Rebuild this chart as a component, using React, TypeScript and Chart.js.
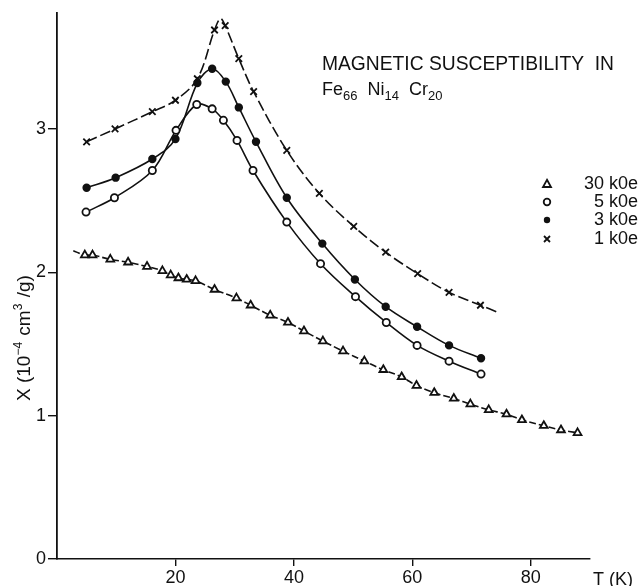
import React, { useEffect, useRef } from 'react';
import { Chart, registerables } from 'chart.js';

Chart.register(...registerables);

const FONT = '"Liberation Sans", Arial, sans-serif';
const INK = '#111111';

// 30 kOe (open triangles)
const t30 = [4.7, 6.0, 9.0, 12.0, 15.2, 17.8, 19.2, 20.5, 21.9, 23.4, 26.6, 30.3, 32.7, 36.0, 39.0, 41.7, 44.9, 48.3, 51.9, 55.1, 58.2, 60.7, 63.7, 67.0, 69.8, 72.9, 75.9, 78.5, 82.2, 85.1, 87.9];
const chi30 = [2.12, 2.12, 2.09, 2.07, 2.04, 2.01, 1.98, 1.96, 1.95, 1.94, 1.88, 1.82, 1.77, 1.70, 1.65, 1.59, 1.52, 1.45, 1.38, 1.32, 1.27, 1.21, 1.16, 1.12, 1.08, 1.04, 1.01, 0.97, 0.93, 0.90, 0.88];
// 5 kOe (open circles)
const t5 = [4.9, 9.7, 16.1, 20.1, 23.6, 26.2, 28.1, 30.4, 33.1, 38.8, 44.5, 50.4, 55.6, 60.8, 66.2, 71.6];
const chi5 = [2.42, 2.52, 2.71, 2.99, 3.17, 3.14, 3.06, 2.92, 2.71, 2.35, 2.06, 1.83, 1.65, 1.49, 1.38, 1.29];
// 3 kOe (filled circles)
const t3 = [5.0, 9.9, 16.1, 20.0, 23.7, 26.2, 28.5, 30.7, 33.6, 38.8, 44.8, 50.3, 55.5, 60.8, 66.2, 71.6];
const chi3 = [2.59, 2.66, 2.79, 2.93, 3.32, 3.42, 3.33, 3.15, 2.91, 2.52, 2.20, 1.95, 1.76, 1.62, 1.49, 1.40];
// 1 kOe (crosses)
const t1 = [5.0, 9.8, 16.1, 20.0, 23.7, 26.6, 28.4, 30.7, 33.2, 38.8, 44.3, 50.1, 55.5, 60.9, 66.2, 71.5];
const chi1 = [2.91, 3.00, 3.12, 3.20, 3.35, 3.69, 3.72, 3.49, 3.26, 2.85, 2.55, 2.32, 2.14, 1.99, 1.86, 1.77];

// extra points of the hand-drawn curves
const curveStart30 = [2.75, 2.15];
const curvePeak1 = [27.6, 3.77];
const curveEnd1 = [74.5, 1.72];

const xTicks = [20, 40, 60, 80];
const yTicks = [0, 1, 2, 3];
const legendLabels = ['30 k0e', '5 k0e', '3 k0e', '1 k0e'];
const legendStyles = ['triangle', 'open', 'filled', 'cross'];
const titleText = 'MAGNETIC SUSCEPTIBILITY  IN';
const formula: [string, string][] = [['Fe', '66'], ['Ni', '14'], ['Cr', '20']];
const xTitle = 'T (K)';

const pts = (xs: number[], ys: number[]) => xs.map((x, i) => ({ x, y: ys[i] }));

function drawMarker(ctx: CanvasRenderingContext2D, style: string, x: number, y: number) {
  ctx.save();
  ctx.strokeStyle = INK;
  ctx.fillStyle = INK;
  ctx.lineWidth = 1.8;
  if (style === 'triangle') {
    ctx.beginPath();
    ctx.moveTo(x, y - 4.2);
    ctx.lineTo(x + 4, y + 3);
    ctx.lineTo(x - 4, y + 3);
    ctx.closePath();
    ctx.stroke();
  } else if (style === 'open') {
    ctx.beginPath();
    ctx.arc(x, y, 3.3, 0, Math.PI * 2);
    ctx.stroke();
  } else if (style === 'filled') {
    ctx.beginPath();
    ctx.arc(x, y, 3.2, 0, Math.PI * 2);
    ctx.fill();
  } else {
    ctx.beginPath();
    ctx.moveTo(x - 3, y - 3);
    ctx.lineTo(x + 3, y + 3);
    ctx.moveTo(x + 3, y - 3);
    ctx.lineTo(x - 3, y + 3);
    ctx.stroke();
  }
  ctx.restore();
}

const textPlugin = {
  id: 'textPlugin',
  afterDraw(chart: any) {
    const ctx: CanvasRenderingContext2D = chart.ctx;
    ctx.save();
    ctx.fillStyle = INK;
    ctx.textBaseline = 'alphabetic';
    ctx.textAlign = 'left';
    // title
    ctx.font = `20px ${FONT}`;
    ctx.fillText(titleText, 322, 70, 292);
    // formula with subscripts
    let x = 322;
    formula.forEach(([el, sub]) => {
      ctx.font = `18px ${FONT}`;
      ctx.fillText(el, x, 95);
      x += ctx.measureText(el).width;
      ctx.font = `13px ${FONT}`;
      ctx.fillText(sub, x, 100);
      x += ctx.measureText(sub).width + 10;
    });
    // legend
    const rows = [184, 202, 220, 239];
    ctx.font = `18px ${FONT}`;
    ctx.textAlign = 'right';
    ctx.textBaseline = 'middle';
    legendLabels.forEach((lab, i) => {
      drawMarker(ctx, legendStyles[i], 547, rows[i]);
      ctx.fillText(lab, 638, rows[i]);
    });
    // x-axis title
    ctx.textAlign = 'left';
    ctx.textBaseline = 'alphabetic';
    ctx.font = `18px ${FONT}`;
    ctx.fillText(xTitle, 593, 585);
    // y-axis title (rotated)
    ctx.translate(30, 401);
    ctx.rotate(-Math.PI / 2);
    const parts: [string, boolean][] = [['X (10', false], ['\u22124', true], [' cm', false], ['3', true], [' /g)', false]];
    let px = 0;
    parts.forEach(([s, sup]) => {
      ctx.font = sup ? `12px ${FONT}` : `19px ${FONT}`;
      ctx.fillText(s, px, sup ? -8 : 0);
      px += ctx.measureText(s).width + (sup ? 1 : 0);
    });
    ctx.restore();
  },
};

export default function App() {
  const ref = useRef<HTMLCanvasElement>(null);
  useEffect(() => {
    const lineBase = { showLine: true, pointRadius: 0, borderColor: INK, borderWidth: 1.6, tension: 0.35, fill: false, order: 2 };
    const markBase = { showLine: false, borderColor: INK, borderWidth: 1.8, order: 0 };
    const chart = new Chart(ref.current as HTMLCanvasElement, {
      type: 'scatter',
      data: {
        datasets: [
          { ...markBase, label: '30 kOe', data: pts(t30, chi30), pointStyle: 'triangle', pointRadius: 4.5, pointBackgroundColor: '#fff' },
          { ...markBase, label: '5 kOe', data: pts(t5, chi5), pointStyle: 'circle', pointRadius: 3.6, pointBackgroundColor: '#fff' },
          { ...markBase, label: '3 kOe', data: pts(t3, chi3), pointStyle: 'circle', pointRadius: 3.3, pointBackgroundColor: INK },
          { ...markBase, label: '1 kOe', data: pts(t1, chi1), pointStyle: 'crossRot', pointRadius: 4.6 },
          { ...lineBase, label: 'c30', data: [{ x: curveStart30[0], y: curveStart30[1] }, ...pts(t30, chi30)], borderDash: [7, 3] },
          { ...lineBase, label: 'c5', data: pts(t5, chi5) },
          { ...lineBase, label: 'c3', data: pts(t3, chi3) },
          {
            ...lineBase,
            label: 'c1',
            data: [...pts(t1, chi1), { x: curvePeak1[0], y: curvePeak1[1] }, { x: curveEnd1[0], y: curveEnd1[1] }].sort((a, b) => a.x - b.x),
            borderDash: [11, 4],
          },
        ] as any,
      },
      options: {
        animation: false,
        responsive: true,
        maintainAspectRatio: false,
        layout: { padding: { left: 0, right: 49, top: 8, bottom: 0 } },
        plugins: { legend: { display: false }, tooltip: { enabled: false }, title: { display: false } },
        scales: {
          x: {
            type: 'linear',
            min: 0,
            max: 90,
            afterBuildTicks: (s: any) => { s.ticks = xTicks.map((v) => ({ value: v })); },
            afterFit: (s: any) => { s.height = 27; },
            grid: { display: true, drawOnChartArea: false, drawTicks: true, tickLength: 7, color: INK, lineWidth: 1.4 },
            border: { display: true, color: INK, width: 1.5 },
            ticks: { color: INK, font: { family: FONT, size: 18 }, padding: 1, maxRotation: 0, autoSkip: false },
          },
          y: {
            type: 'linear',
            min: 0,
            max: 3.81,
            afterBuildTicks: (s: any) => { s.ticks = yTicks.map((v) => ({ value: v })); },
            afterFit: (s: any) => { s.width = 57; },
            grid: { display: true, drawOnChartArea: false, drawTicks: true, tickLength: 9, color: INK, lineWidth: 1.4 },
            border: { display: true, color: INK, width: 1.8 },
            ticks: { color: INK, font: { family: FONT, size: 18 }, padding: 2, autoSkip: false },
          },
        },
      } as any,
      plugins: [textPlugin],
    });
    return () => chart.destroy();
  }, []);
  return (
    <div style={{ position: 'absolute', left: 0, top: 0, width: 639, height: 586, background: '#fff' }}>
      <canvas ref={ref} />
    </div>
  );
}
